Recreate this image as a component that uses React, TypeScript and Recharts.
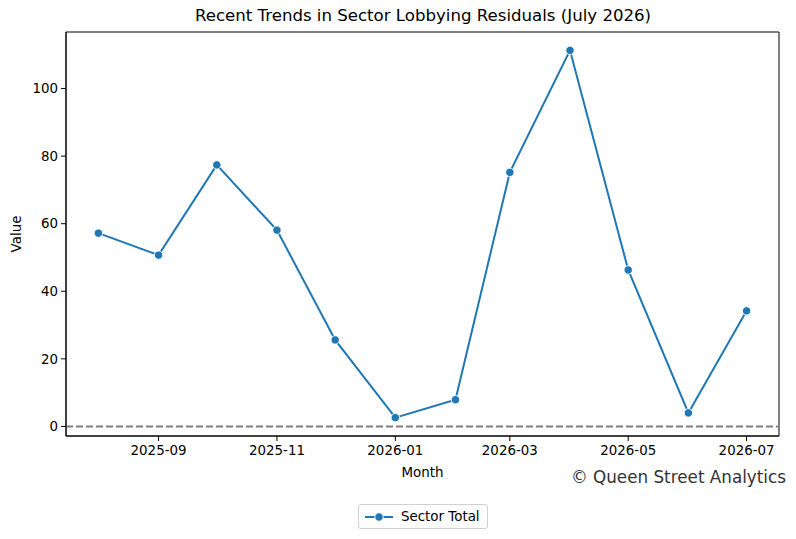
import React from "react";
import {
  LineChart,
  Line,
  XAxis,
  YAxis,
  ReferenceLine,
  ReferenceArea,
} from "recharts";

const months = [
  "2025-08-01", "2025-09-01", "2025-10-01", "2025-11-01", "2025-12-01", "2026-01-01",
  "2026-02-01", "2026-03-01", "2026-04-01", "2026-05-01", "2026-06-01", "2026-07-01",
];
const sectorTotal = [57.2, 50.7, 77.4, 58.1, 25.6, 2.6, 7.9, 75.2, 111.3, 46.3, 4.0, 34.2];
const xTickMonths = ["2025-09-01", "2025-11-01", "2026-01-01", "2026-03-01", "2026-05-01", "2026-07-01"];
const yTicks = [0, 20, 40, 60, 80, 100];

const toTs = (s: string) => Date.parse(s + "T00:00:00Z");
const data = months.map((m, i) => ({ t: toTs(m), v: sectorTotal[i] }));

const tMin = toTs(months[0]);
const tMax = toTs(months[months.length - 1]);
const xPad = (tMax - tMin) * 0.05;
const xDomain: [number, number] = [tMin - xPad, tMax + xPad];
const vMin = Math.min(...sectorTotal);
const vMax = Math.max(...sectorTotal);
const yPad = (vMax - vMin) * 0.05;
const yDomain: [number, number] = [vMin - yPad, vMax + yPad];

const FONT = "'DejaVu Sans', sans-serif";
const BLUE = "#1f77b4";
const TICK_FS = 13.4;

const fmt = (t: number) => {
  const d = new Date(t);
  return `${d.getUTCFullYear()}-${String(d.getUTCMonth() + 1).padStart(2, "0")}`;
};

const Dot = (props: any) => {
  const { cx, cy } = props;
  if (cx == null || cy == null) return null;
  return <circle cx={cx} cy={cy} r={4.2} fill={BLUE} stroke="#fff" strokeWidth={0.9} />;
};

export default function App() {
  return (
    <div style={{ position: "absolute", left: 0, top: 0, width: 796, height: 539, background: "#fff", fontFamily: FONT }}>
      <LineChart
        width={796}
        height={539}
        data={data}
        margin={{ top: 32, right: 17, bottom: 63, left: 0 }}
      >
        <XAxis
          dataKey="t"
          type="number"
          scale="linear"
          domain={xDomain}
          allowDataOverflow
          ticks={xTickMonths.map(toTs)}
          tickFormatter={fmt}
          height={40}
          tick={{ fill: "#000", fontSize: TICK_FS, fontFamily: FONT }}
          tickLine={{ stroke: "#000" }}
          tickSize={5}
          tickMargin={4}
          axisLine={{ stroke: "#000" }}
          label={{ value: "Month", position: "insideBottom", offset: -1, fill: "#000", fontSize: TICK_FS, fontFamily: FONT }}
        />
        <YAxis
          type="number"
          domain={yDomain}
          allowDataOverflow
          ticks={yTicks}
          width={66}
          tick={{ fill: "#000", fontSize: TICK_FS, fontFamily: FONT }}
          tickLine={{ stroke: "#000" }}
          tickSize={5}
          tickMargin={3}
          axisLine={{ stroke: "#000" }}
          label={{ value: "Value", angle: -90, position: "insideLeft", offset: 16, fill: "#000", fontSize: TICK_FS, fontFamily: FONT, style: { textAnchor: "middle" } }}
        />
        <ReferenceLine y={0} stroke="#808080" strokeWidth={2} strokeDasharray="7 3" ifOverflow="extendDomain" />
        <ReferenceArea
          x1={xDomain[0]}
          x2={xDomain[1]}
          y1={yDomain[0]}
          y2={yDomain[1]}
          fill="none"
          fillOpacity={0}
          stroke="#000"
          strokeWidth={1}
        />
        <Line
          dataKey="v"
          stroke={BLUE}
          strokeWidth={2}
          dot={<Dot />}
          activeDot={false}
          isAnimationActive={false}
        />
      </LineChart>
      <div style={{ position: "absolute", left: 66, width: 714, top: 6, textAlign: "center", fontSize: 16.6, color: "#000", whiteSpace: "nowrap" }}>
        Recent Trends in Sector Lobbying Residuals (July 2026)
      </div>
      <div style={{ position: "absolute", right: 10, top: 467, fontSize: 16.8, color: "#333", whiteSpace: "nowrap" }}>
        © Queen Street Analytics
      </div>
      <div
        style={{
          position: "absolute",
          left: 358,
          top: 504,
          width: 130,
          height: 25,
          boxSizing: "border-box",
          border: "1px solid #d0d0d0",
          borderRadius: 3,
          display: "flex",
          alignItems: "center",
          fontSize: TICK_FS,
          color: "#000",
        }}
      >
        <svg width={32} height={12} style={{ marginLeft: 4 }}>
          <line x1={2} y1={6} x2={30} y2={6} stroke={BLUE} strokeWidth={2} />
          <circle cx={16} cy={6} r={4.2} fill={BLUE} stroke="#fff" strokeWidth={0.9} />
        </svg>
        <span style={{ marginLeft: 6 }}>Sector Total</span>
      </div>
    </div>
  );
}
